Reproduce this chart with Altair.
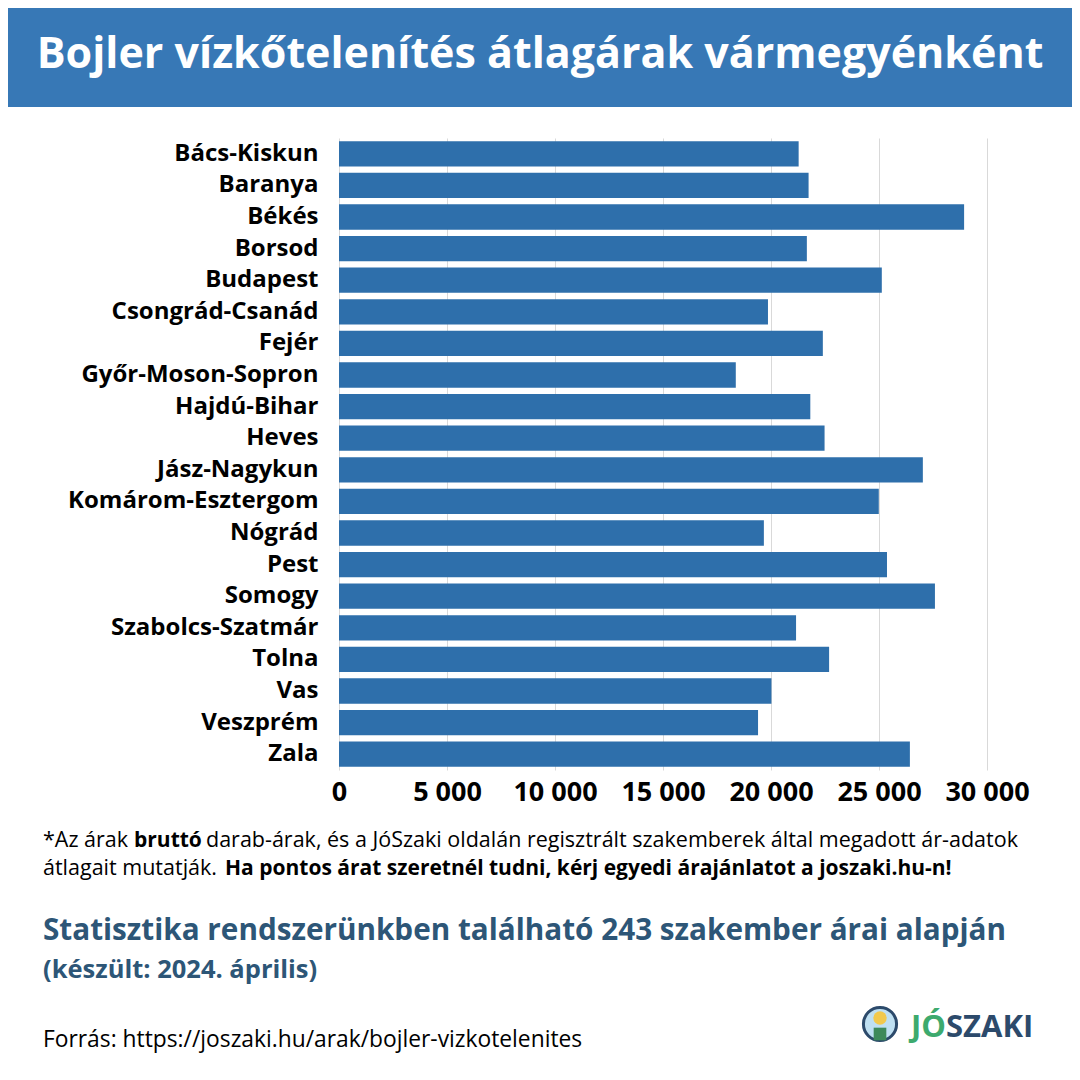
import altair as alt
import pandas as pd

counties = ["Bács-Kiskun", "Baranya", "Békés", "Borsod", "Budapest", "Csongrád-Csanád",
            "Fejér", "Győr-Moson-Sopron", "Hajdú-Bihar", "Heves", "Jász-Nagykun",
            "Komárom-Esztergom", "Nógrád", "Pest", "Somogy", "Szabolcs-Szatmár",
            "Tolna", "Vas", "Veszprém", "Zala"]
prices = [21280, 21740, 28940, 21660, 25130, 19860, 22400, 18370, 21820, 22480,
          27030, 24990, 19670, 25370, 27590, 21160, 22690, 20020, 19400, 26430]
x_ticks = [0, 5000, 10000, 15000, 20000, 25000, 30000]

title_text = "Bojler vízkőtelenítés átlagárak vármegyénként"
note1 = ["*Az árak", "bruttó",
         "darab-árak, és a JóSzaki oldalán regisztrált szakemberek által megadott ár-adatok"]
note2 = ["átlagait mutatják.", "Ha pontos árat szeretnél tudni, kérj egyedi árajánlatot a joszaki.hu-n!"]
stat_text = "Statisztika rendszerünkben található 243 szakember árai alapján"
date_text = "(készült: 2024. április)"
source_text = "Forrás: https://joszaki.hu/arak/bojler-vizkotelenites"

df = pd.DataFrame({"county": counties, "price": prices})

W, H = 648, 632
FONT = "Open Sans"
BODY = "Open Sans"
BLUE = "#3778b6"
BAR = "#2e6fab"
DARK = "#2d5677"

bars = alt.Chart(df).mark_bar(color=BAR).encode(
    x=alt.X("price:Q", scale=alt.Scale(domain=[0, 30000], nice=False),
            axis=alt.Axis(values=x_ticks, title=None, grid=True, gridColor="#d9d9d9",
                          ticks=False, domain=False, labelFontSize=27, labelFont=FONT,
                          labelFontWeight="bold", labelColor="#000000", labelPadding=9,
                          labelOverlap=False, labelFlush=False,
                          labelExpr="replace(format(datum.value, ','), ',', ' ')")),
    y=alt.Y("county:N", sort=counties,
            scale=alt.Scale(paddingInner=0.2, paddingOuter=0.1),
            axis=alt.Axis(title=None, ticks=False, domain=False, labelFontSize=24,
                          labelFont=FONT, labelFontWeight="bold", labelColor="#000000",
                          labelPadding=21, labelLimit=400)),
)


def txt(text, x, y, size, weight="normal", color="#000000", align="left", font=BODY):
    return alt.Chart(pd.DataFrame({"t": [text]})).mark_text(
        align=align, baseline="alphabetic", fontSize=size, fontWeight=weight,
        color=color, font=font
    ).encode(x=alt.value(x), y=alt.value(y), text="t:N")


header = alt.Chart(pd.DataFrame({"t": [title_text]})).mark_rect(color=BLUE).encode(
    x=alt.value(-331), x2=alt.value(733), y=alt.value(-130), y2=alt.value(-31))

logo_circle = alt.Chart(pd.DataFrame({"t": ["logo"]})).mark_point(
    filled=True, size=1100, color="#bfe0f2", stroke="#2c4a6b", strokeWidth=3, opacity=1
).encode(x=alt.value(541), y=alt.value(886))
logo_helmet = alt.Chart(pd.DataFrame({"t": ["helmet"]})).mark_point(
    filled=True, size=180, color="#f2c94c", opacity=1
).encode(x=alt.value(541), y=alt.value(880))
logo_body = alt.Chart(pd.DataFrame({"t": ["body"]})).mark_point(
    filled=True, size=160, color="#3d8a5a", shape="square", opacity=1
).encode(x=alt.value(541), y=alt.value(896))

layers = [
    header,
    txt(title_text, 201, -70, 43, "bold", "#ffffff", "center", FONT),
    bars,
    txt(note1[0], -296, 709, 21.5),
    txt(note1[1], -205, 709, 21, "bold"),
    txt(note1[2], -133, 709, 21.5),
    txt(note2[0], -296, 737, 21.5),
    txt(note2[1], -114, 737, 21, "bold"),
    txt(stat_text, -296, 802, 29.7, "bold", DARK),
    txt(date_text, -296, 840, 25.5, "bold", DARK),
    txt(source_text, -296, 909, 22.8),
    logo_circle,
    logo_helmet,
    logo_body,
    txt("JÓ", 572, 899, 31, "bold", "#3daa6e", font="Open Sans"),
    txt("SZAKI", 607, 899, 31, "bold", "#2c4a6b", font="Open Sans"),
]

chart = alt.layer(*layers).properties(
    width=W, height=H, autosize="none",
    padding={"left": 331, "top": 130, "right": 85, "bottom": 302},
    background="#ffffff",
).configure_view(stroke=None)

chart.save("out.html", embed_options={"renderer": "svg", "actions": False})
